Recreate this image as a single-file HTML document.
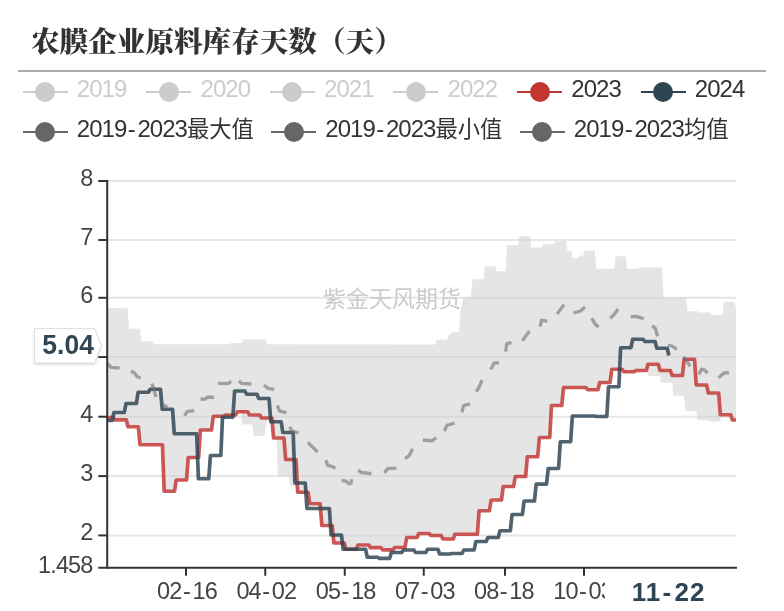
<!DOCTYPE html>
<html lang="zh-CN"><head><meta charset="utf-8"><title>农膜企业原料库存天数（天）</title>
<style>
html,body{margin:0;padding:0;background:#fff;}
body{width:784px;height:611px;position:relative;overflow:hidden;font-family:"Liberation Sans","Noto Sans CJK SC",sans-serif;}
.title{position:absolute;left:31px;top:23px;font-family:"Liberation Serif","Noto Serif CJK SC",serif;font-weight:900;font-size:28.6px;line-height:40px;color:#333;white-space:nowrap;}
.hr{position:absolute;left:18px;top:69.8px;width:748px;height:2.1px;background:#ababab;}
.lg{position:absolute;height:30px;line-height:30px;font-size:24px;letter-spacing:-0.95px;white-space:nowrap;color:#333;}
.lg .c{font-size:22.3px;letter-spacing:0;}
.lg.off{color:#ccc;}
.lg .t{position:absolute;left:54.3px;top:-3px;}
.lg .ln{position:absolute;left:0;top:14.1px;width:45.2px;height:1.8px;}
.lg .dot{position:absolute;left:12.5px;top:5px;width:20px;height:20px;border-radius:50%;}
.h{display:inline-block;margin:0 2.6px 0 1.4px;}
.yl{position:absolute;right:691.5px;font-size:23.5px;letter-spacing:-0.87px;line-height:26px;height:26px;color:#444;white-space:nowrap;}
.xl{position:absolute;top:575.5px;font-size:23.5px;letter-spacing:-0.87px;line-height:30px;height:30px;color:#444;white-space:nowrap;width:80px;margin-left:-40px;text-align:center;}
</style></head><body>
<div class="title">农膜企业原料库存天数（天）</div>
<div class="hr"></div>

<div class="lg off" style="left:22.50px;top:76.95px"><span class="ln" style="background:#ccc"></span><span class="dot" style="background:#ccc"></span><span class="t">2019</span></div>
<div class="lg off" style="left:146.25px;top:76.95px"><span class="ln" style="background:#ccc"></span><span class="dot" style="background:#ccc"></span><span class="t">2020</span></div>
<div class="lg off" style="left:269.75px;top:76.95px"><span class="ln" style="background:#ccc"></span><span class="dot" style="background:#ccc"></span><span class="t">2021</span></div>
<div class="lg off" style="left:393.25px;top:76.95px"><span class="ln" style="background:#ccc"></span><span class="dot" style="background:#ccc"></span><span class="t">2022</span></div>
<div class="lg" style="left:517.00px;top:76.95px"><span class="ln" style="background:#c23531"></span><span class="dot" style="background:#c23531"></span><span class="t">2023</span></div>
<div class="lg" style="left:640.50px;top:76.95px"><span class="ln" style="background:#2f4554"></span><span class="dot" style="background:#2f4554"></span><span class="t">2024</span></div>
<div class="lg" style="left:22.50px;top:116.95px"><span class="ln" style="background:#666"></span><span class="dot" style="background:#666"></span><span class="t">2019<span class="h">-</span>2023<span class="c">最大值</span></span></div>
<div class="lg" style="left:271.00px;top:116.95px"><span class="ln" style="background:#666"></span><span class="dot" style="background:#666"></span><span class="t">2019<span class="h">-</span>2023<span class="c">最小值</span></span></div>
<div class="lg" style="left:519.50px;top:116.95px"><span class="ln" style="background:#666"></span><span class="dot" style="background:#666"></span><span class="t">2019<span class="h">-</span>2023<span class="c">均值</span></span></div>
<svg width="784" height="611" viewBox="0 0 784 611" style="position:absolute;left:0;top:0">
<line x1="108" x2="736" y1="181.00" y2="181.00" stroke="#e6e6e6" stroke-width="2"/>
<line x1="108" x2="736" y1="240.00" y2="240.00" stroke="#e6e6e6" stroke-width="2"/>
<line x1="108" x2="736" y1="297.80" y2="297.80" stroke="#e6e6e6" stroke-width="2"/>
<line x1="108" x2="736" y1="357.05" y2="357.05" stroke="#e6e6e6" stroke-width="2"/>
<line x1="108" x2="736" y1="416.70" y2="416.70" stroke="#e6e6e6" stroke-width="2"/>
<line x1="108" x2="736" y1="476.10" y2="476.10" stroke="#e6e6e6" stroke-width="2"/>
<line x1="108" x2="736" y1="535.40" y2="535.40" stroke="#e6e6e6" stroke-width="2"/>
<text x="392" y="306.5" text-anchor="middle" font-size="23" fill="#cbcbcb" font-family="'Liberation Sans','Noto Sans CJK SC',sans-serif" font-weight="400">紫金天风期货</text>
<polygon points="107.00,308.25 127.50,308.25 129.00,328.75 140.00,328.75 141.50,341.25 153.00,341.25 154.00,344.25 229.50,344.25 230.50,343.00 242.00,343.00 243.00,339.50 266.00,339.50 267.50,344.25 435.00,344.40 436.20,339.75 447.00,339.75 448.50,335.00 450.50,335.00 451.50,332.25 459.00,332.25 460.70,309.00 463.75,297.50 470.60,297.50 472.50,279.25 483.75,279.25 484.75,266.25 495.25,266.25 496.25,271.25 505.75,271.25 507.00,245.00 518.25,245.00 519.50,236.25 529.75,236.25 531.25,247.50 542.00,247.50 543.00,244.25 554.00,244.25 555.00,241.25 566.00,241.25 567.50,251.25 571.50,251.25 572.50,258.00 578.50,258.00 579.25,255.75 583.25,255.75 584.50,250.50 594.75,250.50 596.25,268.75 614.25,268.75 615.50,256.25 625.75,256.25 627.25,268.75 638.25,268.75 639.25,267.50 662.00,267.50 663.50,297.50 686.25,297.50 687.50,311.25 698.25,311.25 699.25,312.50 710.50,312.50 711.75,315.00 722.75,315.00 723.75,302.00 734.50,302.00 735.50,306.25 736.00,306.25 736.00,420.00 732.41,420.00 730.69,414.75 720.80,414.25 720.40,421.40 709.80,421.40 709.00,420.20 697.50,420.20 696.30,411.25 685.50,411.25 684.00,395.70 673.30,395.70 672.30,382.70 661.00,382.70 660.00,376.00 648.80,376.00 646.25,370.50 635.91,370.50 634.19,371.75 623.84,371.75 622.12,369.25 611.78,369.25 610.06,382.50 599.72,382.50 598.00,389.75 587.65,389.75 585.93,387.50 563.53,387.50 561.81,405.50 551.47,405.50 549.75,437.50 539.40,437.50 537.68,456.75 527.34,456.75 525.62,476.50 515.28,476.50 513.56,486.50 503.21,486.50 501.49,500.00 491.15,500.00 489.43,510.75 479.09,510.75 477.37,534.25 454.96,534.25 453.24,539.00 442.90,539.00 441.18,535.50 430.84,535.50 429.12,533.50 418.77,533.50 417.05,537.50 406.71,537.50 404.99,547.50 394.65,547.50 392.93,549.90 382.58,549.90 380.86,547.70 370.52,547.70 368.80,545.00 358.03,545.00 356.31,549.25 344.46,549.25 342.74,543.00 332.40,543.00 330.68,525.50 320.34,525.50 318.62,503.75 308.28,503.75 306.56,492.25 296.21,492.25 296.50,486.25 290.30,486.25 288.75,476.25 277.80,476.25 276.80,437.50 273.50,437.50 272.00,417.50 267.20,418.00 264.50,436.00 253.75,436.00 252.30,424.50 241.80,424.50 241.25,411.50 237.40,411.75 235.68,415.00 225.33,415.00 223.61,416.25 213.27,416.25 211.55,430.00 200.34,430.00 198.62,457.50 188.28,457.50 186.55,480.00 176.21,480.00 174.49,491.25 164.15,491.25 162.43,444.75 140.02,444.75 138.30,426.75 127.96,426.75 126.24,419.80 115.06,419.80 113.34,417.70 107.00,417.70" fill="#cfcfcf" fill-opacity="0.55"/>
<polyline points="107.00,417.70 113.34,417.70 115.06,419.80 126.24,419.80 127.96,426.75 138.30,426.75 140.02,444.75 162.43,444.75 164.15,491.25 174.49,491.25 176.21,480.00 186.55,480.00 188.28,457.50 198.62,457.50 200.34,430.00 211.55,430.00 213.27,416.25 223.61,416.25 225.33,415.00 235.68,415.00 237.40,411.75 247.74,411.75 249.46,415.00 259.80,415.00 261.52,418.00 271.87,418.00 273.59,438.00 283.93,438.00 285.65,459.50 295.99,459.50 297.71,492.25 308.06,492.25 309.78,503.75 320.12,503.75 321.84,525.50 332.18,525.50 333.90,543.00 344.24,543.00 345.96,549.25 356.31,549.25 358.03,545.00 368.80,545.00 370.52,547.70 380.86,547.70 382.58,549.90 392.93,549.90 394.65,547.50 404.99,547.50 406.71,537.50 417.05,537.50 418.77,533.50 429.12,533.50 430.84,535.50 441.18,535.50 442.90,539.00 453.24,539.00 454.96,534.25 477.37,534.25 479.09,510.75 489.43,510.75 491.15,500.00 501.49,500.00 503.21,486.50 513.56,486.50 515.28,476.50 525.62,476.50 527.34,456.75 537.68,456.75 539.40,437.50 549.75,437.50 551.47,405.50 561.81,405.50 563.53,387.50 585.93,387.50 587.65,389.75 598.00,389.75 599.72,382.50 610.06,382.50 611.78,369.25 622.12,369.25 623.84,371.75 634.19,371.75 635.91,370.50 646.25,370.50 647.97,364.25 658.31,364.25 660.03,370.50 670.38,370.50 672.10,375.50 682.44,375.50 684.16,359.25 694.50,359.25 696.22,385.00 706.56,385.00 708.28,393.00 718.63,393.00 720.35,414.75 730.69,414.75 732.41,420.00 736.00,420.00" fill="none" stroke="#c23531" stroke-opacity="0.82" stroke-width="3.7" stroke-linejoin="round"/>
<polyline points="107.00,420.50 112.24,420.50 113.96,412.50 124.30,412.50 126.02,403.50 136.37,403.50 138.09,392.25 148.43,392.25 150.15,389.25 160.49,389.25 162.21,409.25 172.55,409.25 174.28,433.75 196.68,433.75 198.40,478.75 208.74,478.75 210.46,455.50 220.81,455.50 222.53,417.25 232.87,417.25 234.59,391.00 244.93,391.00 246.65,394.25 257.00,394.25 258.72,398.50 269.06,398.50 270.78,421.75 281.12,421.75 282.84,432.50 293.19,432.50 294.91,483.00 305.25,483.00 306.97,508.50 329.37,508.50 331.09,535.00 341.44,535.00 343.16,549.25 365.56,549.25 367.28,557.25 377.63,557.25 379.35,558.30 389.69,558.30 391.41,552.50 401.75,552.50 403.47,550.00 413.81,550.00 415.53,552.50 425.88,552.50 427.60,549.25 437.94,549.25 439.66,554.00 450.00,554.00 451.72,553.50 462.07,553.50 463.79,550.00 474.13,550.00 475.85,541.50 486.19,541.50 487.91,537.50 498.26,537.50 499.98,530.75 510.32,530.75 512.04,514.50 522.38,514.50 524.10,501.00 534.45,501.00 536.17,484.10 546.51,484.10 548.23,468.50 558.57,468.50 560.29,441.75 570.63,441.75 572.35,416.00 594.76,416.00 596.48,416.50 606.82,416.50 608.54,386.75 618.89,386.75 620.61,347.75 630.95,347.75 632.67,339.25 643.01,339.25 644.73,341.50 655.08,341.50 656.80,348.25 667.20,348.25 668.90,355.50" fill="none" stroke="#2f4554" stroke-opacity="0.84" stroke-width="3.7" stroke-linejoin="round"/>
<g fill="none" stroke="#707070" stroke-opacity="0.6" stroke-width="3.3" stroke-linejoin="round">
<polyline points="107.80,363.60 111.00,367.30 119.60,368.20"/>
<polyline points="130.90,371.00 134.50,373.00 137.00,376.50 140.70,378.00"/>
<polyline points="151.80,383.60 153.60,388.00 155.90,397.00"/>
<polyline points="163.20,404.50 167.60,407.70"/>
<polyline points="184.50,415.70 187.20,411.70 194.30,410.60"/>
<polyline points="200.50,399.00 205.00,399.20 207.60,397.00 214.00,397.50"/>
<polyline points="217.90,383.30 228.00,383.60 230.00,382.20 231.40,382.20"/>
<polyline points="238.90,381.00 241.80,383.40 251.40,384.00"/>
<polyline points="263.90,385.20 268.00,388.30 274.30,389.40"/>
<polyline points="277.30,405.40 279.30,410.80 286.40,412.60"/>
<polyline points="290.00,426.80 291.30,430.80 298.40,432.80"/>
<polyline points="307.90,442.30 317.50,452.00"/>
<polyline points="325.70,460.20 327.90,465.50 332.30,466.50 335.40,468.20"/>
<polyline points="341.60,480.70 346.10,481.10 348.80,483.80 351.10,483.20 351.80,479.30"/>
<polyline points="358.20,470.00 361.30,472.50 371.40,473.60"/>
<polyline points="384.50,473.00 387.50,468.60 396.40,468.20"/>
<polyline points="405.00,458.75 409.50,455.20 412.50,448.90"/>
<polyline points="422.90,440.00 431.80,440.90 436.25,437.90"/>
<polyline points="444.30,431.00 447.00,425.40 454.60,423.00"/>
<polyline points="461.80,412.30 463.60,405.70 470.00,403.90"/>
<polyline points="476.40,391.80 479.50,386.40 482.10,380.20"/>
<polyline points="490.70,369.50 494.30,362.90 499.10,362.90"/>
<polyline points="505.70,351.60 506.80,343.60 511.60,342.70"/>
<polyline points="522.30,340.90 529.50,331.00"/>
<polyline points="540.20,326.60 541.40,320.40 547.30,321.20"/>
<polyline points="557.10,314.10 563.90,304.60"/>
<polyline points="573.60,313.00 580.50,311.00 585.00,307.00"/>
<polyline points="591.80,318.20 595.00,323.90 598.60,327.10"/>
<polyline points="610.20,318.20 614.60,314.10 617.90,308.80"/>
<polyline points="630.70,316.80 636.10,316.40 643.60,318.60"/>
<polyline points="652.10,325.70 655.40,328.40 657.50,336.40"/>
<polyline points="667.90,345.20 672.00,346.00 676.90,349.40"/>
<polyline points="683.00,357.00 686.00,359.30 690.00,366.40"/>
<polyline points="698.90,374.30 701.50,369.20 704.00,369.60 707.50,373.00"/>
<polyline points="718.60,377.90 723.90,373.00 728.90,372.60"/>
</g>
<line x1="107.2" x2="107.2" y1="180.10" y2="568.65" stroke="#333" stroke-width="2"/>
<line x1="98.3" x2="737" y1="567.75" y2="567.75" stroke="#333" stroke-width="2"/>
<line x1="98.3" x2="107" y1="181.00" y2="181.00" stroke="#333" stroke-width="2"/>
<line x1="98.3" x2="107" y1="240.00" y2="240.00" stroke="#333" stroke-width="2"/>
<line x1="98.3" x2="107" y1="297.80" y2="297.80" stroke="#333" stroke-width="2"/>
<line x1="98.3" x2="107" y1="357.05" y2="357.05" stroke="#333" stroke-width="2"/>
<line x1="98.3" x2="107" y1="416.70" y2="416.70" stroke="#333" stroke-width="2"/>
<line x1="98.3" x2="107" y1="476.10" y2="476.10" stroke="#333" stroke-width="2"/>
<line x1="98.3" x2="107" y1="535.40" y2="535.40" stroke="#333" stroke-width="2"/>
<line x1="186.00" x2="186.00" y1="567.75" y2="575.75" stroke="#333" stroke-width="2"/>
<line x1="265.25" x2="265.25" y1="567.75" y2="575.75" stroke="#333" stroke-width="2"/>
<line x1="344.75" x2="344.75" y1="567.75" y2="575.75" stroke="#333" stroke-width="2"/>
<line x1="423.75" x2="423.75" y1="567.75" y2="575.75" stroke="#333" stroke-width="2"/>
<line x1="505.00" x2="505.00" y1="567.75" y2="575.75" stroke="#333" stroke-width="2"/>
<line x1="584.00" x2="584.00" y1="567.75" y2="575.75" stroke="#333" stroke-width="2"/>
</svg>
<div class="yl" style="top:165.00px">8</div>
<div class="yl" style="top:224.00px">7</div>
<div class="yl" style="top:281.80px">6</div>
<div class="yl" style="top:400.70px">4</div>
<div class="yl" style="top:460.10px">3</div>
<div class="yl" style="top:519.40px">2</div>
<div class="yl" style="top:551.75px">1.458</div>
<div class="xl" style="left:187.00px">02<span class="h">-</span>16</div>
<div class="xl" style="left:266.30px">04<span class="h">-</span>02</div>
<div class="xl" style="left:345.70px">05<span class="h">-</span>18</div>
<div class="xl" style="left:424.80px">07<span class="h">-</span>03</div>
<div class="xl" style="left:503.90px">08<span class="h">-</span>18</div>
<div class="xl" style="left:583.10px">10<span class="h">-</span>03</div>
<div style="position:absolute;left:605px;top:570px;width:127px;height:41px;background:#fff;"></div>
<div style="position:absolute;left:598.5px;top:573.7px;width:140px;text-align:center;font-weight:bold;font-size:26px;letter-spacing:0.9px;line-height:36px;color:#2f4554;white-space:nowrap;">11<span class="h">-</span>22</div>
<svg width="784" height="611" viewBox="0 0 784 611" style="position:absolute;left:0;top:0;overflow:visible"><defs><filter id="sh" x="-20%" y="-20%" width="140%" height="150%"><feGaussianBlur stdDeviation="1.5"/></filter></defs><polygon points="34.5,330 94.5,330 101.5,347 94.5,364.5 34.5,364.5" fill="#000" opacity="0.16" filter="url(#sh)"/><polygon points="34.5,328.6 94.5,328.6 101.4,345.8 94.5,363 34.5,363" fill="#fff" stroke="#ddd" stroke-width="1"/><text x="68.1" y="353.9" transform="translate(0,353.9) scale(1,1.07) translate(0,-353.9)" text-anchor="middle" font-size="26.5" font-weight="bold" fill="#2f4554" font-family="'Liberation Sans',sans-serif">5.04</text></svg>
</body></html>
